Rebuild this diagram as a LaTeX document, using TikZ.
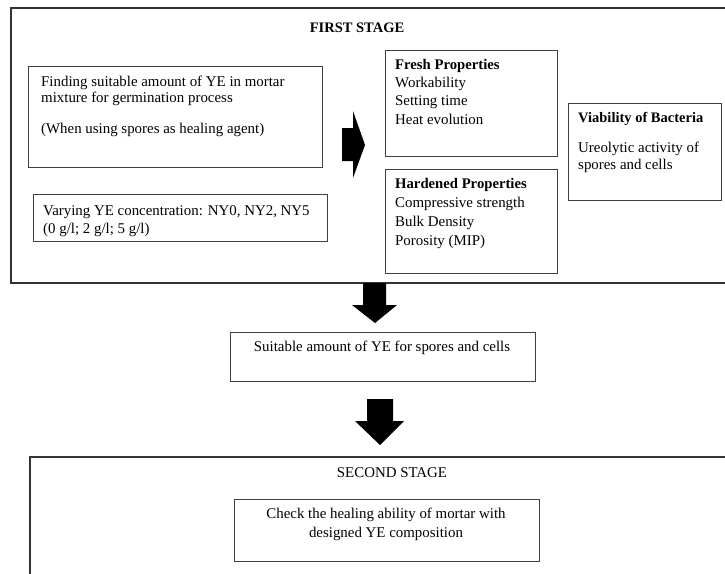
\documentclass[tikz,border=0pt]{standalone}
\usepackage{fontspec}
\setmainfont{Liberation Serif}
\begin{document}
\begin{tikzpicture}[x=1pt,y=-1pt,
  box/.style={draw=black!75,line width=0.9pt,inner sep=0pt},
  stagebox/.style={draw=black!80,line width=1.4pt,inner sep=0pt},
  txt/.style={anchor=base west,inner sep=0pt,font=\fontsize{14.9}{16}\selectfont},
  ctxt/.style={anchor=base,inner sep=0pt,font=\fontsize{14.9}{16}\selectfont},
  bigarrow/.style={fill=black,draw=none}]
\useasboundingbox (0,0) rectangle (725,573);
\begin{scope}
\clip (0,0) rectangle (725,573);
% stage frames
\draw[stagebox] (11,8) rectangle (740,283);
\draw[stagebox] (30,457) rectangle (740,590);
\end{scope}
\node[ctxt,font=\fontsize{14.5}{16}\selectfont\bfseries] (fs) at (357,32) {FIRST STAGE};
% boxes
\draw[box] (28,66) rectangle (322,167);
\node[txt] (b1a) at (41,86) {Finding suitable amount of YE in mortar};
\node[txt] (b1b) at (41,102) {mixture for germination process};
\node[txt] (b1c) at (41,133) {(When using spores as healing agent)};
\draw[box] (33,194) rectangle (327,241);
\node[txt] (b2a) at (43,215) {Varying YE concentration: NY0, NY2, NY5};
\node[txt] (b2b) at (43,233) {(0 g/l; 2 g/l; 5 g/l)};
% right arrow
\fill[bigarrow] (342,128) -- (353,128) -- (353,111) -- (365,145) -- (353,178) -- (353,161) -- (342,161) -- cycle;
% fresh
\draw[box] (385,50) rectangle (557,156);
\node[txt,font=\fontsize{14.7}{16}\selectfont\bfseries] (fp) at (395,69) {Fresh Properties};
\node[txt] (fp1) at (395,87) {Workability};
\node[txt] (fp2) at (395,105) {Setting time};
\node[txt] (fp3) at (395,124) {Heat evolution};
% hardened
\draw[box] (385,169) rectangle (557,273);
\node[txt,font=\fontsize{14.7}{16}\selectfont\bfseries] (hp) at (395,188) {Hardened Properties};
\node[txt] (hp1) at (395,207) {Compressive strength};
\node[txt] (hp2) at (395,226) {Bulk Density};
\node[txt] (hp3) at (395,245) {Porosity (MIP)};
% viability
\draw[box] (568,103) rectangle (721,200);
\node[txt,font=\fontsize{14.5}{16}\selectfont\bfseries] (vb) at (578,122) {Viability of Bacteria};
\node[txt] (vb1) at (578,152) {Ureolytic activity of};
\node[txt] (vb2) at (578,169) {spores and cells};
% down arrow 1
\fill[bigarrow] (363,283) -- (386,283) -- (386,305) -- (397,305) -- (375,323) -- (352,305) -- (363,305) -- cycle;
% suitable box
\draw[box] (230,332) rectangle (535,381);
\node[ctxt] (su) at (382,351) {Suitable amount of YE for spores and cells};
% down arrow 2
\fill[bigarrow] (367,399) -- (393,399) -- (393,421) -- (404,421) -- (380,445) -- (355,421) -- (367,421) -- cycle;
\node[ctxt] (ss) at (392,477) {SECOND STAGE};
\draw[box] (234,499) rectangle (539,561);
\node[ctxt] (ck1) at (386,518) {Check the healing ability of mortar with};
\node[ctxt] (ck2) at (386,537) {designed YE composition};
\end{tikzpicture}
\end{document}
